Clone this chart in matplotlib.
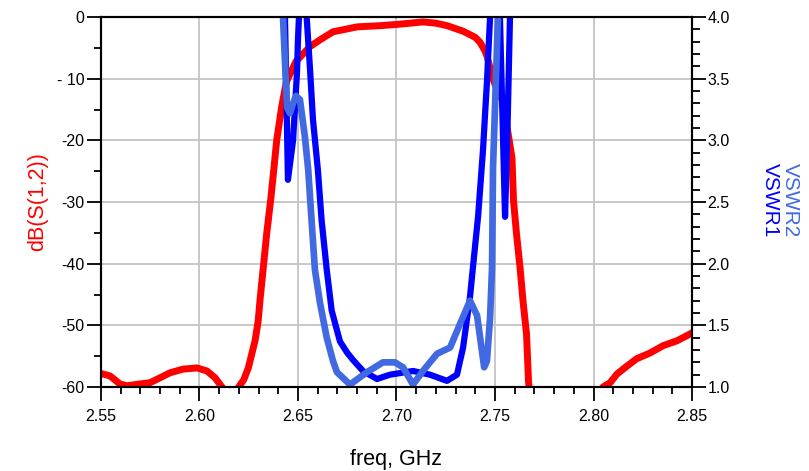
import matplotlib
matplotlib.use("Agg")
import matplotlib.pyplot as plt
from matplotlib.ticker import MultipleLocator

plt.rcParams['font.family'] = ['Liberation Sans', 'DejaVu Sans']

# dB(S(1,2)) - red trace
freq_s12 = [2.5500, 2.5546, 2.5596, 2.5632, 2.5698, 2.5749, 2.5800, 2.5850, 2.5916,
            2.5987, 2.6038, 2.6079, 2.6119, 2.6145, 2.6170, 2.6197, 2.6225, 2.6248,
            2.6282, 2.6298, 2.6307, 2.6324, 2.6341, 2.6362, 2.6378, 2.6392, 2.6417,
            2.6441, 2.6490, 2.6561, 2.6612, 2.6678, 2.6800, 2.6920, 2.7002, 2.7070,
            2.7134, 2.7200, 2.7256, 2.7338, 2.7400, 2.7424, 2.7449, 2.7460, 2.7485,
            2.7510, 2.7536, 2.7561, 2.7586, 2.7594, 2.7609, 2.7627, 2.7642, 2.7660,
            2.7670, 2.7680, 2.7800, 2.7900, 2.8000, 2.8048, 2.8084, 2.8119, 2.8170,
            2.8220, 2.8286, 2.8353, 2.8424, 2.8490, 2.8500]
s12_db = [-57.8, -58.2, -59.5, -59.8, -59.5, -59.3, -58.5, -57.7, -57.1,
          -56.9, -57.4, -58.5, -60.2, -61.5, -61.0, -60.1, -58.8, -56.9,
          -52.5, -49.3, -46.0, -40.6, -35.2, -29.5, -24.5, -20.0, -14.6,
          -10.5, -7.2, -4.8, -3.7, -2.4, -1.6, -1.4, -1.2, -1.0,
          -0.8, -1.0, -1.4, -2.3, -3.3, -4.1, -5.5, -6.4, -9.6,
          -11.8, -13.4, -17.8, -22.8, -29.8, -35.1, -40.6, -46.0, -51.4,
          -59.0, -63.0, -70.0, -70.0, -64.0, -60.0, -59.3, -57.9, -56.6,
          -55.4, -54.5, -53.3, -52.5, -51.4, -51.2]

# VSWR1 - blue trace
freq_vswr1 = [2.6400, 2.6425, 2.6434, 2.6449, 2.6475, 2.6495, 2.6500, 2.6505, 2.6520,
              2.6535, 2.6544, 2.6561, 2.6576, 2.6601, 2.6620, 2.6646, 2.6671, 2.6713,
              2.6749, 2.6779, 2.6830, 2.6901, 2.6967, 2.7084, 2.7170, 2.7256, 2.7307,
              2.7338, 2.7373, 2.7388, 2.7414, 2.7439, 2.7459, 2.7475, 2.7490, 2.7510,
              2.7525, 2.7551, 2.7565, 2.7576, 2.7600]
vswr1 = [5.0, 4.3, 4.0, 2.68, 3.0, 3.55, 3.82, 4.0, 4.5,
         4.3, 4.0, 3.58, 3.17, 2.76, 2.35, 1.95, 1.62, 1.37,
         1.28, 1.22, 1.13, 1.065, 1.10, 1.13, 1.10, 1.05, 1.10,
         1.32, 1.73, 1.97, 2.38, 2.92, 3.47, 4.0, 4.6, 4.6,
         4.0, 2.38, 3.2, 4.0, 5.0]

# VSWR2 - light blue trace
freq_vswr2 = [2.6400, 2.6424, 2.6444, 2.6459, 2.6475, 2.6490, 2.6510, 2.6535, 2.6552,
              2.6569, 2.6586, 2.6612, 2.6646, 2.6678, 2.6698, 2.6764, 2.6850, 2.6931,
              2.6992, 2.7033, 2.7084, 2.7134, 2.7206, 2.7272, 2.7322, 2.7373, 2.7409,
              2.7445, 2.7459, 2.7475, 2.7485, 2.7490, 2.7515, 2.7530]
vswr2 = [5.0, 4.0, 3.27, 3.22, 3.30, 3.36, 3.33, 3.03, 2.76,
         2.35, 1.95, 1.68, 1.40, 1.21, 1.12, 1.02, 1.12, 1.20,
         1.20, 1.16, 1.02, 1.13, 1.27, 1.32, 1.51, 1.70, 1.58,
         1.16, 1.21, 1.56, 1.97, 2.78, 4.0, 5.0]

x_ticks = [2.55, 2.60, 2.65, 2.70, 2.75, 2.80, 2.85]
x_labels = ['2.55', '2.60', '2.65', '2.70', '2.75', '2.80', '2.85']
db_ticks = [-60, -50, -40, -30, -20, -10, 0]
db_labels = ['-60', '-50', '-40', '-30', '-20', '- 10', '0']
vswr_ticks = [1.0, 1.5, 2.0, 2.5, 3.0, 3.5, 4.0]
vswr_labels = ['1.0', '1.5', '2.0', '2.5', '3.0', '3.5', '4.0']

fig = plt.figure(figsize=(8.09, 4.71), dpi=100)
ax1 = fig.add_axes([0.1248, 0.1783, 0.7306, 0.7856])
ax2 = ax1.twinx()

ax1.plot(freq_s12, s12_db, color='#FF0000', lw=5, solid_joinstyle='round')
ax2.plot(freq_vswr1, vswr1, color='#0000FF', lw=4.5, solid_joinstyle='round')
ax2.plot(freq_vswr2, vswr2, color='#4169E1', lw=4.8, solid_joinstyle='round')

ax1.set_xlim(2.55, 2.85)
ax1.set_ylim(-60, 0)
ax2.set_ylim(1.0, 4.0)

ax1.set_xticks(x_ticks)
ax1.set_xticklabels(x_labels)
ax1.set_yticks(db_ticks)
ax1.set_yticklabels(db_labels)
ax2.set_yticks(vswr_ticks)
ax2.set_yticklabels(vswr_labels)
ax1.xaxis.set_minor_locator(MultipleLocator(0.01))
ax1.yaxis.set_minor_locator(MultipleLocator(5))
ax2.yaxis.set_minor_locator(MultipleLocator(0.1))

ax1.grid(True, which='major', color='#c4c4c4', lw=1.3)
ax1.set_axisbelow(True)

for ax in (ax1, ax2):
    for sp in ax.spines.values():
        sp.set_color('black')
        sp.set_linewidth(1.5)

ax1.tick_params(axis='both', which='major', direction='out', length=10, width=1.3,
                labelsize=11.5, pad=2)
ax1.tick_params(axis='both', which='minor', direction='out', length=5, width=1.3)
ax2.tick_params(axis='y', which='major', direction='out', length=10, width=1.3,
                labelsize=11.5, pad=1)
ax2.tick_params(axis='y', which='minor', direction='out', length=5.5, width=1.3)
ax1.tick_params(axis='x', pad=6)

ax1.set_xlabel('freq, GHz', fontsize=15.5, labelpad=18)
ax1.set_ylabel('dB(S(1,2))', fontsize=15.5, color='#FF0000', labelpad=6)

fig.text(0.952, 0.575, 'VSWR1', rotation=270, fontsize=15, color='#0000FF',
         ha='center', va='center')
fig.text(0.977, 0.575, 'VSWR2', rotation=270, fontsize=15, color='#4169E1',
         ha='center', va='center')

fig.savefig('out.png', dpi=100)
